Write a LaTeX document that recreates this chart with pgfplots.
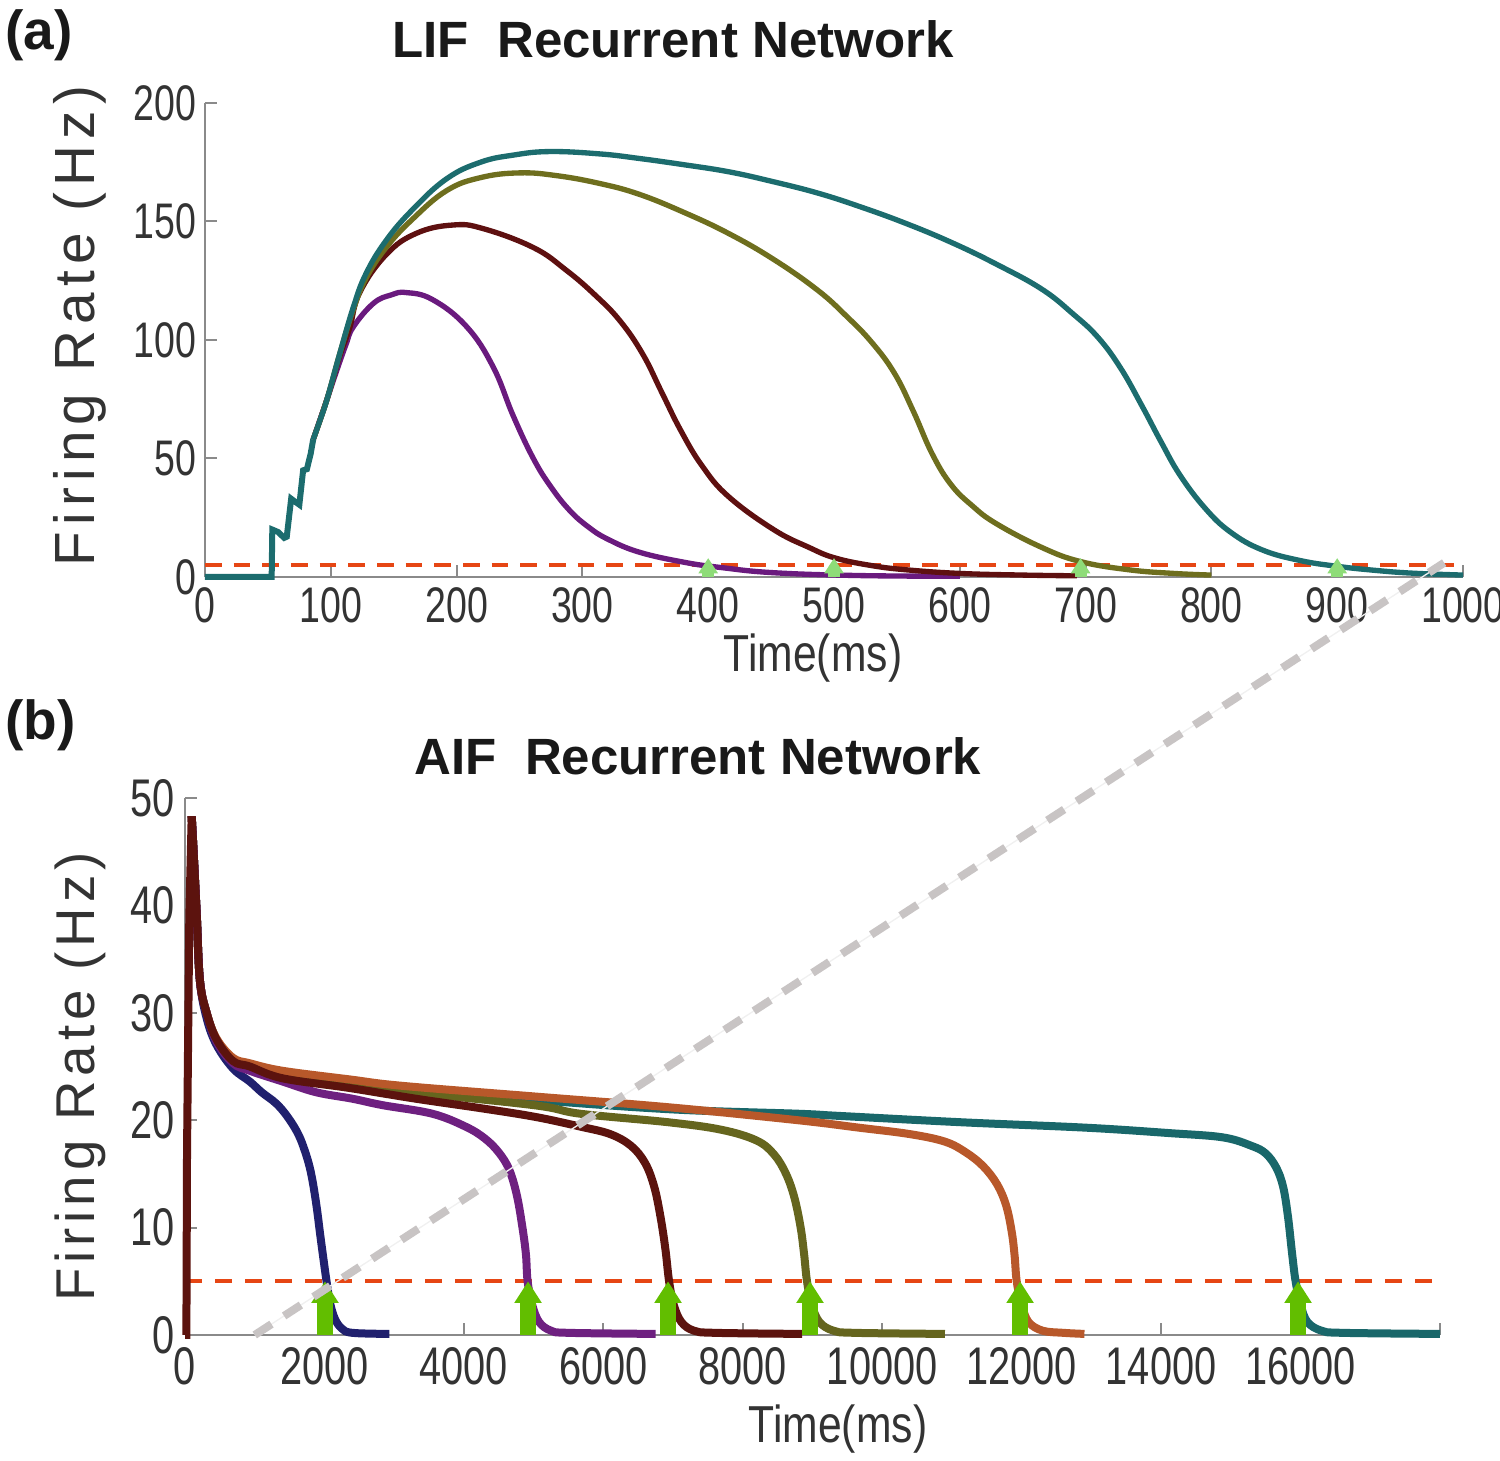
\documentclass[border=0pt]{standalone}
\usepackage{fontspec}
\setmainfont{Liberation Sans}
\newfontfamily\condA{Liberation Sans}[FakeStretch=0.75]
\newfontfamily\condB{Liberation Sans}[FakeStretch=0.82]
\newfontfamily\spacedA{Liberation Sans}[LetterSpace=11]
\newfontfamily\spacedB{Liberation Sans}[LetterSpace=9]
\usepackage{pgfplots}
\pgfplotsset{compat=1.18}
\usetikzlibrary{arrows.meta}

\definecolor{axisgray}{HTML}{8A8A8A}
\definecolor{labelgray}{HTML}{333333}
\definecolor{thr}{HTML}{E64614}
\definecolor{cTealA}{HTML}{1C6C6E}
\definecolor{cOliveA}{HTML}{6E6E1E}
\definecolor{cMaroonA}{HTML}{5E1010}
\definecolor{cPurpleA}{HTML}{6A1A7E}
\definecolor{cNavy}{HTML}{20206E}
\definecolor{cPurple}{HTML}{6E2080}
\definecolor{cMaroon}{HTML}{5C130E}
\definecolor{cOlive}{HTML}{65651E}
\definecolor{cOrange}{HTML}{B8582A}
\definecolor{cTeal}{HTML}{19676A}
\definecolor{arrowgreen}{HTML}{62BE00}
\definecolor{markgreen}{HTML}{8EDC78}
\definecolor{zoomgray}{HTML}{C8C4C4}

\pgfplotsset{mystyle/.style={
  scale only axis, anchor=south west,
  axis x line=bottom, axis y line=left,
  axis line style={-, draw=axisgray, line width=0.6pt},
  tick align=inside, major tick length=3.6pt,
  tick style={draw=axisgray, line width=0.6pt},
  scaled x ticks=false, scaled y ticks=false,
  /pgf/number format/1000 sep={},
  /pgf/number format/assume math mode=true,
  clip=false
}}

\begin{document}
\begin{tikzpicture}
\useasboundingbox (0,0) rectangle (450pt,438.3pt);

% ---------------- Panel (a) ----------------
\begin{axis}[mystyle, at={(61.5pt,265.2pt)}, width=377.4pt, height=142.2pt,
  xmin=0, xmax=1000, ymin=0, ymax=200,
  xtick={0,100,...,1000}, ytick={0,50,...,200},
  xticklabel style={font=\condA\fontsize{15}{18}\selectfont, text=labelgray, inner sep=0pt, yshift=-3pt},
  yticklabel style={font=\condA\fontsize{15}{18}\selectfont, text=labelgray, inner sep=0pt, xshift=-2.4pt},
]
\addplot[thr, line width=1.2pt, dash pattern=on 5pt off 3.6pt] coordinates {(0,5) (1000,5)};

\addplot[cPurpleA, line width=1.6pt, smooth, tension=0.7] coordinates {
(86,58) (97,75) (104,86) (112,98) (118,105.6) (134,115.5) (148,119) (160,120) (181,117)
(208,105.6) (229,88.7) (245,68) (261,50) (275,38) (290,28) (305,21) (320,16) (345,10.5)
(381,6.2) (410,4) (452,1.8) (520,0.6) (600,0.3)};

\addplot[cMaroonA, line width=1.6pt, smooth, tension=0.7] coordinates {
(86,58) (97,75) (107,93) (115,105) (123,120) (144,136) (168,145) (197,148.5) (221,147)
(261,139) (287,129.5) (310,119) (330,108) (348,94) (363,78) (378,62) (395,47)
(416,34) (452,20) (480,12.5) (501,8) (530,4.8) (558,3) (600,1.5) (650,0.8) (693,0.5)};

\addplot[cOliveA, line width=1.6pt, smooth, tension=0.7] coordinates {
(86,58) (97,75) (107,94) (118,113) (128,126) (144,139) (165,151) (192,163) (219,168.5)
(250,170.5) (280,169.3) (314,166) (345,161.5) (380,154) (416,145) (452,134) (487,121)
(510,110) (530,99) (548,86) (563,70) (578,52) (593,39) (610,30) (629,22.5) (665,12.5)
(696,6.5) (735,3) (770,1.5) (800,0.8)};

\addplot[cTealA, line width=1.6pt, smooth, tension=0.7] coordinates {
(86,58) (92,67) (97,75) (107,94) (118,114) (128,128) (144,142) (165,155) (192,168)
(219,175) (245,178) (274,179.5) (314,178.5) (345,176.6) (380,174) (416,171) (450,167)
(487,162) (522,156) (558,149) (594,141) (629,132) (665,121.5) (690,111) (710,101)
(728,88) (745,72) (760,57) (775,43) (795,29) (815,19) (840,11.5) (870,7) (900,4.5)
(930,2.8) (960,1.6) (1000,0.8)};

\addplot[cTealA, line width=1.8pt] coordinates {
(0,0) (53,0) (53.5,20) (58,19) (63,16.5) (65,17) (68.5,33) (71,32) (75,30.5) (78,45)
(81,45.5) (84,52) (86,58)};

\addplot[markgreen, line width=3.6pt, -{Triangle[width=5.6pt,length=4.6pt]},
  quiver={u=0,v=8}] coordinates {(400,0) (500,0) (696,0) (900,0)};

\coordinate (Atop) at (axis cs:985,6);
\end{axis}

% ---------------- Panel (b) ----------------
\begin{axis}[mystyle, at={(55.5pt,37.8pt)}, width=376.5pt, height=161.1pt,
  xmin=0, xmax=18000, ymin=0, ymax=50,
  xtick={0,2000,...,18000},
  xticklabels={0,2000,4000,6000,8000,10000,12000,14000,16000,{}},
  ytick={0,10,...,50},
  xticklabel style={font=\condA\fontsize{15.9}{19}\selectfont, text=labelgray, inner sep=0pt, yshift=-3.6pt},
  yticklabel style={font=\condA\fontsize{15.9}{19}\selectfont, text=labelgray, inner sep=0pt, xshift=-3pt},
]
\addplot[thr, line width=1.2pt, dash pattern=on 5pt off 4pt] coordinates {(0,5) (18000,5)};

\addplot[cTeal, line width=2.4pt, smooth, tension=0.6] coordinates {
(96,48.3) (119,45.5) (167,39.3) (214,33) (310,30) (453,27.5)
(690,25.6) (929,25.2) (1400,24.4) (3000,23) (5000,21.9) (7000,21) (8800,20.6) (9379,20.4)
(11157,19.8) (12929,19.3) (14114,18.8) (14886,18.4) (15300,17.6) (15500,16.9) (15650,15.6)
(15750,13.8) (15820,11) (15880,7.5) (15929,5) (16000,2.8) (16100,1.2) (16300,0.4) (16600,0.2) (18000,0.1)};

\addplot[cOlive, line width=2.4pt, smooth, tension=0.6] coordinates {
(96,48.3) (119,45.5) (167,39.3) (214,33) (310,30) (453,27.5)
(690,25.5) (929,25.1) (1400,24.2) (3000,22.8) (5000,21.4) (5671,20.6) (6943,19.8)
(7700,19.1) (8200,18.1) (8450,16.8) (8620,15) (8740,12.8) (8830,10) (8880,7.5) (8921,5)
(8990,2.8) (9100,1.2) (9300,0.4) (9600,0.2) (10900,0.1)};

\addplot[cOrange, line width=2.4pt, smooth, tension=0.6] coordinates {
(96,48.3) (119,45.5) (167,39.3) (214,33) (310,30) (453,27.6)
(690,25.8) (929,25.3) (1400,24.6) (2357,23.8) (3114,23.2) (5028,22.2) (6943,21.2)
(8786,20) (9671,19.3) (10400,18.7) (10900,18) (11200,17) (11450,15.7) (11650,14)
(11780,12) (11860,9.5) (11900,7.3) (11929,5) (12000,2.8) (12100,1.2) (12300,0.4) (12600,0.2) (12900,0.1)};

\addplot[cNavy, line width=2.4pt, smooth, tension=0.6] coordinates {
(96,48.3) (119,45.5) (167,39.3) (214,33) (310,29.5) (453,27)
(690,24.8) (929,23.6) (1100,22.6) (1300,21.6) (1450,20.5) (1600,19) (1700,17.5)
(1800,15.3) (1880,12.3) (1950,8.8) (2030,5) (2080,3) (2150,1.5) (2250,0.6) (2400,0.2) (2930,0.1)};

\addplot[cPurple, line width=2.4pt, smooth, tension=0.6] coordinates {
(96,48.3) (119,45.5) (167,39.3) (214,33) (310,30) (453,27.3)
(690,25.3) (929,24.6) (1400,23.6) (1881,22.6) (2400,22) (2833,21.4) (3548,20.6)
(4024,19.4) (4300,18.3) (4500,17) (4650,15.4) (4760,13) (4840,10) (4890,7.5) (4914,5)
(4980,2.8) (5080,1.2) (5250,0.4) (5500,0.2) (6750,0.1)};

\addplot[cMaroon, line width=2.4pt, smooth, tension=0.6] coordinates {
(96,48.3) (119,45.5) (167,39.3) (214,33) (310,30) (453,27.5)
(690,25.5) (929,25) (1400,23.9) (2357,23) (3310,22) (4260,21.1) (5028,20.3) (5671,19.4)
(6100,18.7) (6400,17.6) (6600,16) (6730,13.8) (6820,11) (6890,8) (6943,5) (7010,2.8)
(7120,1.2) (7300,0.4) (7600,0.2) (8850,0.1)};

\addplot[cMaroon, line width=2.4pt] coordinates {
(0,0) (20,0) (29,17) (62,39) (96,48.3)};

\addplot[arrowgreen, line width=4.8pt, -{Triangle[width=7.8pt,length=6.5pt]},
  quiver={u=0,v=5}] coordinates {(2008,0) (4920,0) (6928,0) (8964,0) (11977,0) (15964,0)};

\coordinate (Bbot) at (axis cs:1000,0);
\end{axis}

% zoom indicator
\draw[line width=0.4pt, color=black!6] (Bbot) -- (Atop);
\draw[line width=2.4pt, color=zoomgray, dash pattern=on 6pt off 4.5pt] (Bbot) -- (Atop);

% texts
\node[anchor=base west, inner sep=0pt, font=\bfseries\fontsize{16.5}{19}\selectfont, text=black!90] at (1.5pt,423.3pt) {(a)};
\node[anchor=base west, inner sep=0pt, font=\bfseries\fontsize{16.5}{19}\selectfont, text=black!90] at (1.5pt,216.3pt) {(b)};
\node[anchor=base, inner sep=0pt, font=\bfseries\fontsize{15.3}{18}\selectfont, text=black!90] at (201.9pt,420.9pt) {LIF\ \ Recurrent Network};
\node[anchor=base, inner sep=0pt, font=\bfseries\fontsize{15.3}{18}\selectfont, text=black!90] at (209.4pt,205.8pt) {AIF\ \ Recurrent Network};
\node[anchor=base, rotate=90, inner sep=0pt, font=\spacedA\fontsize{17}{20}\selectfont, text=labelgray] at (28.2pt,340.5pt) {Firing Rate (Hz)};
\node[anchor=base, rotate=90, inner sep=0pt, font=\spacedB\fontsize{16.4}{19}\selectfont, text=labelgray] at (28.2pt,115.2pt) {Firing Rate (Hz)};
\node[anchor=base, inner sep=0pt, font=\condB\fontsize{15.6}{18}\selectfont, text=labelgray] at (243.9pt,236.8pt) {Time(ms)};
\node[anchor=base, inner sep=0pt, font=\condB\fontsize{15.6}{18}\selectfont, text=labelgray] at (251.4pt,5.4pt) {Time(ms)};
\end{tikzpicture}
\end{document}
